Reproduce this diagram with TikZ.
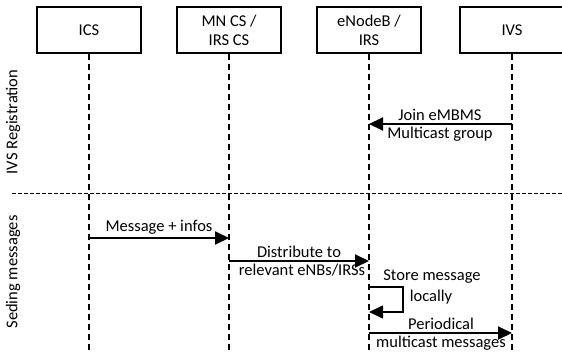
\documentclass[tikz,border=0pt]{standalone}
\usepackage{fontspec}
\setmainfont{Carlito}
\usetikzlibrary{arrows.meta}

\begin{document}
\begin{tikzpicture}[x=1pt,y=-1pt,font=\fontsize{16.5}{19}\selectfont,
  actor/.style={draw,line width=1.3pt,minimum width=104pt,minimum height=46pt,align=center,inner sep=2pt},
  life/.style={line width=1.4pt,dash pattern=on 6pt off 4pt},
  msg/.style={line width=2pt,-{Triangle[length=14pt,width=13pt]}},
  lbl/.style={inner sep=2.5pt},
  top/.style={above,inner sep=3.5pt}]
\useasboundingbox (0,0) rectangle (562,363);
\node[actor] (ics) at (89,30) {ICS};
\node[actor] (mncs) at (229,30) {MN CS /\\IRS CS};
\node[actor] (enb) at (369,30) {eNodeB /\\IRS};
\node[actor] (ivs) at (512,30) {IVS};
\foreach \n in {ics,mncs,enb,ivs}
  \draw[life] (\n.south) -- (\n |- 0,353);
\draw[line width=1pt,dash pattern=on 4pt off 2pt] (12,194) -- (562,194);
\node[rotate=90] (reg) at (13,122) {IVS Registration};
\node[rotate=90] (send) at (13,272) {Seding messages};
% registration
\draw[msg] (ivs |- 0,124) -- (enb |- 0,124);
\node[top] at (440,124) {Join eMBMS};
\node[lbl,below] at (440,124) {Multicast group};
% sending
\draw[msg] (ics |- 0,238) -- (mncs |- 0,238);
\node[top] at (159,238) {Message + infos};
\draw[msg] (mncs |- 0,261) -- (enb |- 0,261);
\node[top] at (299,261) {Distribute to};
\node[lbl,below] at (302,261) {relevant eNBs/IRSs};
\draw[msg,line width=1.6pt] (enb |- 0,287) -| (403,312) -- (enb |- 0,312);
\node[lbl] at (432,277) {Store message};
\node[lbl] at (431,297) {locally};
\draw[msg] (enb |- 0,333) -- (ivs |- 0,333);
\node[top] at (441,333) {Periodical};
\node[lbl,below] at (441,333) {multicast messages};
\end{tikzpicture}
\end{document}
